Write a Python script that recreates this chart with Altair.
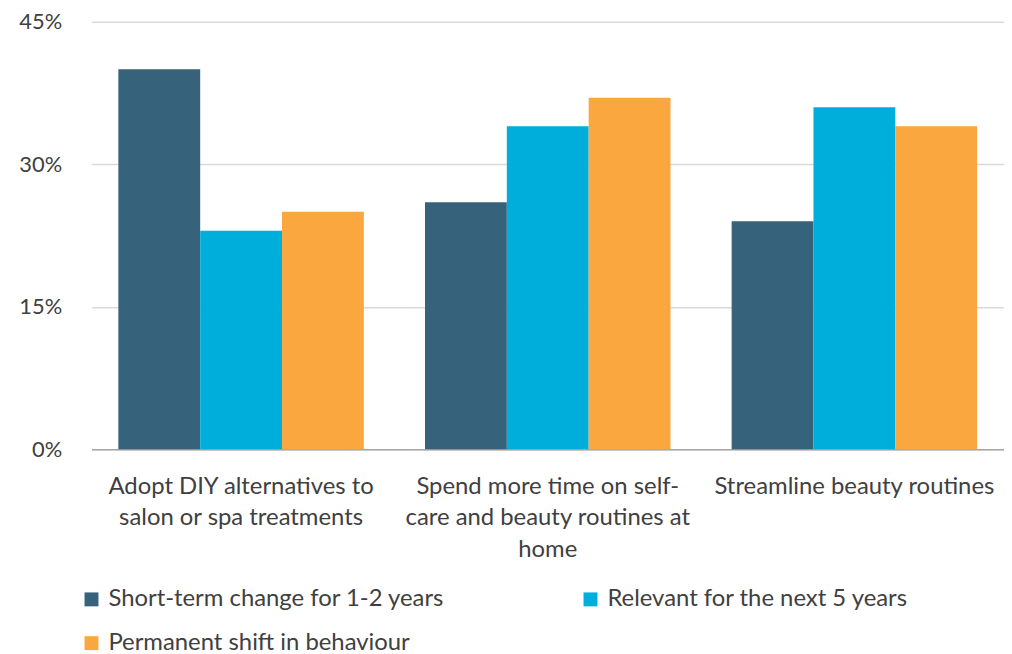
import altair as alt
import pandas as pd

categories = [
    "Adopt DIY alternatives to|salon or spa treatments",
    "Spend more time on self-|care and beauty routines at|home",
    "Streamline beauty routines",
]
series = [
    "Short-term change for 1-2 years",
    "Relevant for the next 5 years",
    "Permanent shift in behaviour",
]
short_term = [40, 26, 24]
relevant = [23, 34, 36]
permanent = [25, 37, 34]
colors = ["#36637B", "#00AEDB", "#F9A73E"]

rows = []
for i, c in enumerate(categories):
    for s, vals in zip(series, [short_term, relevant, permanent]):
        rows.append({"category": c, "series": s, "value": vals[i]})
df = pd.DataFrame(rows)

FONT = "Lato"
FS = 24

chart = alt.Chart(df).mark_bar().encode(
    x=alt.X(
        "category:N",
        sort=categories,
        title=None,
        scale=alt.Scale(paddingInner=0.1994, paddingOuter=0.0876),
        axis=alt.Axis(
            labelAngle=0,
            labelExpr="split(datum.label, '|')",
            labelFont=FONT,
            labelFontSize=FS,
            labelColor="#404040",
            labelLineHeight=32,
            labelBaseline="top",
            labelPadding=25,
            ticks=False,
            domainColor="#A6A6A6",
            domainWidth=1.5,
            labelLimit=400,
        ),
    ),
    xOffset=alt.XOffset("series:N", sort=series, scale=alt.Scale(paddingInner=0, paddingOuter=0)),
    y=alt.Y(
        "value:Q",
        title=None,
        scale=alt.Scale(domain=[0, 45]),
        axis=alt.Axis(
            values=[0, 15, 30, 45],
            labelExpr="datum.value + '%'",
            labelFont=FONT,
            labelFontSize=22,
            labelColor="#404040",
            labelPadding=30,
            ticks=False,
            domain=False,
            gridColor="#D9D9D9",
            gridWidth=1.5,
        ),
    ),
    color=alt.Color(
        "series:N",
        sort=series,
        scale=alt.Scale(domain=series, range=colors),
        legend=alt.Legend(
            title=None,
            orient="none",
            direction="horizontal",
            legendX=-12,
            legendY=569,
            columns=2,
            columnPadding=134,
            rowPadding=20,
            symbolType="square",
            symbolSize=196,
            symbolStrokeWidth=0,
            symbolOpacity=1,
            labelFont=FONT,
            labelFontSize=FS,
            labelColor="#404040",
            labelOffset=5,
            labelLimit=500,
        ),
    ),
).properties(
    width=918,
    height=430,
    autosize=alt.AutoSizeParams(type="none"),
    padding={"left": 84, "top": 12, "right": 0, "bottom": 204},
).configure_view(stroke=None)

chart.save("out.html", embed_options={"renderer": "svg", "actions": False})
